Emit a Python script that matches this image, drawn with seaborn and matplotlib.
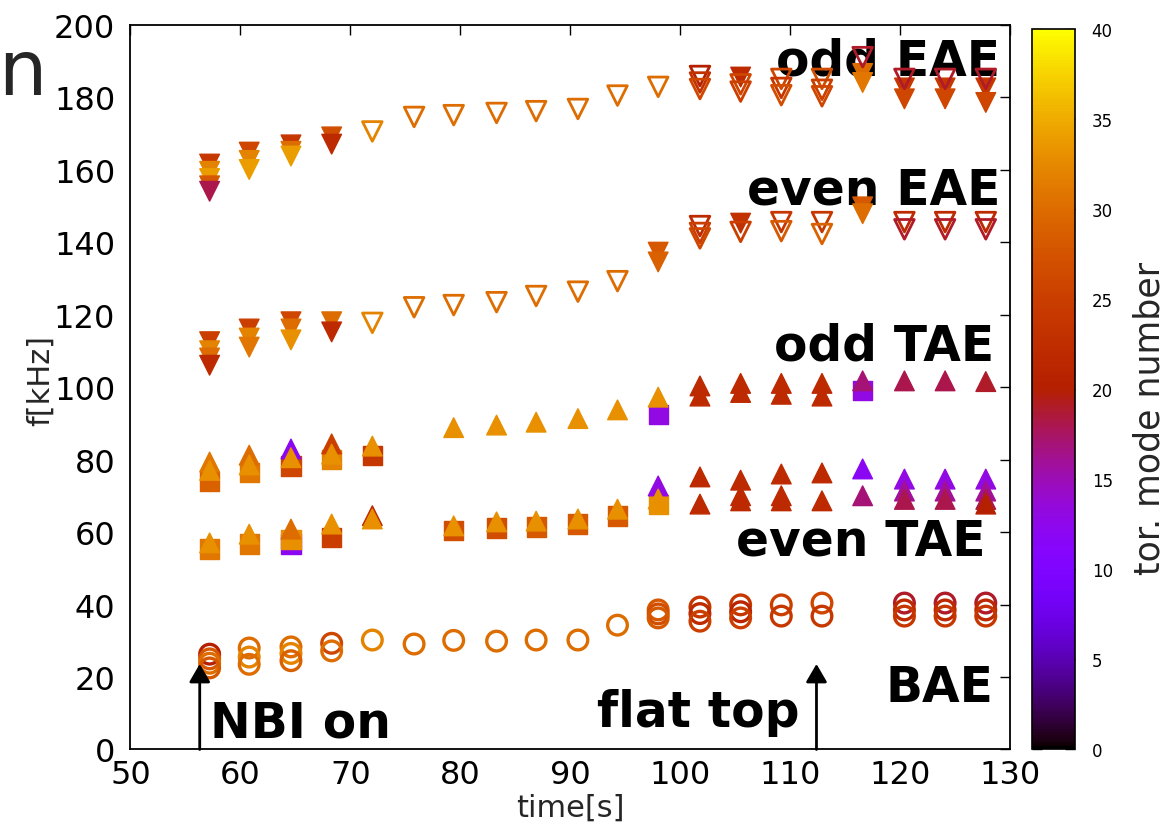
import matplotlib
matplotlib.use("Agg")
import matplotlib.pyplot as plt
import pandas as pd
import seaborn as sns
from matplotlib.colors import Normalize
from matplotlib.cm import ScalarMappable

# ---------------- data ----------------
# odd EAE (down triangles); open = 1 -> hollow marker
oeae_t = [57.2, 57.2, 57.2, 57.2, 57.2, 60.8, 60.8, 60.8, 64.6, 64.6, 64.6, 68.3, 68.3,
          72.0, 75.8, 79.4, 83.3, 86.9, 90.7, 94.3, 98.0,
          101.8, 101.8, 101.8, 105.5, 105.5, 105.5, 109.2, 109.2, 109.2, 112.9, 112.9, 112.9,
          116.6, 116.6, 116.6, 120.4, 120.4, 120.4, 124.1, 124.1, 124.1, 127.8, 127.8, 127.8]
oeae_f = [161.5, 159.5, 157.5, 155.5, 154.0, 164.8, 162.5, 160.0, 166.8, 165.0, 163.7, 169.0, 167.0,
          170.5, 174.5, 175.0, 175.6, 176.1, 176.7, 180.4, 182.8,
          185.8, 184.0, 182.2, 185.5, 183.5, 181.5, 185.0, 182.5, 180.5, 185.0, 182.0, 180.2,
          191.0, 186.5, 184.0, 185.0, 182.5, 179.5, 185.0, 182.5, 179.5, 185.0, 182.5, 178.5]
oeae_n = [24, 32, 34, 28, 18, 26, 32, 34, 24, 30, 34, 27, 22,
          32, 30, 30, 30, 30, 30, 30, 30,
          20, 23, 26, 22, 26, 25, 26, 24, 27, 27, 25, 26,
          19, 30, 31, 19, 24, 26, 19, 24, 26, 19, 24, 26]
oeae_open = [0, 0, 0, 0, 0, 0, 0, 0, 0, 0, 0, 0, 0,
             1, 1, 1, 1, 1, 1, 1, 1,
             1, 1, 1, 0, 1, 1, 1, 1, 1, 1, 1, 1,
             1, 0, 0, 1, 0, 0, 1, 0, 0, 1, 0, 0]

# even EAE (down triangles)
eeae_t = [57.2, 57.2, 57.2, 57.2, 60.8, 60.8, 60.8, 64.6, 64.6, 64.6, 68.3, 68.3,
          72.0, 75.8, 79.4, 83.3, 86.9, 90.7, 94.3, 98.0, 98.0,
          101.8, 101.8, 101.8, 105.5, 105.5, 109.2, 109.2, 112.9, 112.9,
          116.6, 116.6, 120.4, 120.4, 124.1, 124.1, 127.8, 127.8]
eeae_f = [112.5, 110.0, 108.0, 106.0, 116.0, 113.5, 111.0, 118.0, 116.0, 113.0, 118.0, 115.2,
          117.7, 122.0, 122.6, 123.4, 125.1, 126.3, 129.2, 137.2, 134.5,
          144.4, 142.5, 141.0, 145.2, 142.8, 145.5, 143.0, 145.5, 142.2,
          149.7, 147.8, 145.5, 143.5, 145.5, 143.5, 145.5, 143.5]
eeae_n = [25, 32, 30, 22, 25, 32, 31, 26, 30, 33, 30, 22,
          32, 30, 30, 30, 30, 30, 30, 28, 29,
          22, 25, 26, 23, 25, 24, 28, 24, 29,
          28, 30, 22, 19, 22, 19, 22, 19]
eeae_open = [0, 0, 0, 0, 0, 0, 0, 0, 0, 0, 0, 0,
             1, 1, 1, 1, 1, 1, 1, 0, 0,
             1, 1, 1, 0, 1, 1, 1, 1, 1,
             0, 0, 1, 1, 1, 1, 1, 1]

# odd TAE (up triangles '^' and squares 's')
otae_t = [57.2, 57.2, 57.2, 60.8, 60.8, 60.8, 64.6, 64.6, 64.6, 68.3, 68.3, 68.3, 72.0, 72.0,
          79.4, 83.3, 86.9, 90.7, 94.3, 98.0, 98.0,
          101.8, 101.8, 105.5, 105.5, 109.2, 109.2, 112.9, 112.9, 116.6, 116.6,
          120.4, 124.1, 127.8]
otae_f = [79.3, 77.0, 74.0, 81.2, 78.5, 76.5, 82.9, 80.5, 78.2, 84.3, 81.5, 80.0, 83.7, 81.0,
          88.8, 89.5, 90.3, 91.3, 93.7, 97.2, 92.3,
          100.3, 97.5, 101.0, 98.5, 101.0, 98.0, 101.0, 97.5, 101.7, 99.0,
          101.7, 101.7, 101.5]
otae_n = [31, 33, 29, 30, 33, 31, 12, 33, 26, 25, 33, 32, 33, 24,
          33, 33, 33, 33, 33, 33, 13,
          22, 22, 22, 22, 22, 22, 22, 22, 17, 13,
          18, 18, 19]
otae_shape = ['^', '^', 's', '^', '^', 's', '^', '^', 's', '^', '^', 's', '^', 's',
              '^', '^', '^', '^', '^', '^', 's',
              '^', '^', '^', '^', '^', '^', '^', '^', '^', 's',
              '^', '^', '^']

# even TAE
etae_t = [57.2, 57.2, 60.8, 60.8, 64.6, 64.6, 64.6, 68.3, 68.3, 72.0, 72.0,
          79.4, 79.4, 83.3, 83.3, 86.9, 86.9, 90.7, 90.7, 94.3, 94.3, 98.0, 98.0, 98.0,
          101.8, 101.8, 105.5, 105.5, 105.5, 109.2, 109.2, 109.2, 112.9, 112.9,
          116.6, 116.6, 120.4, 120.4, 120.4, 124.1, 124.1, 124.1, 127.8, 127.8, 127.8, 127.8]
etae_f = [57.0, 55.3, 59.4, 56.7, 60.8, 56.7, 58.0, 62.2, 58.6, 64.5, 63.6,
          61.7, 60.3, 62.8, 61.1, 63.0, 61.4, 63.6, 62.2, 66.3, 64.4, 72.7, 69.1, 67.7,
          75.2, 67.7, 74.3, 70.0, 68.6, 76.0, 70.0, 68.6, 76.3, 68.6,
          77.4, 70.0, 74.6, 71.3, 69.0, 74.6, 71.3, 69.0, 74.6, 71.3, 69.0, 67.7]
etae_n = [33, 31, 33, 31, 30, 12, 33, 33, 25, 22, 33,
          33, 27, 33, 27, 33, 28, 33, 28, 33, 28, 13, 33, 33,
          22, 22, 22, 22, 22, 22, 22, 22, 22, 22,
          12, 17, 13, 16, 18, 13, 16, 18, 13, 16, 18, 20]
etae_shape = ['^', 's', '^', 's', '^', 's', 's', '^', 's', '^', '^',
              '^', 's', '^', 's', '^', 's', '^', 's', '^', 's', '^', '^', 's',
              '^', '^', '^', '^', '^', '^', '^', '^', '^', '^',
              '^', '^', '^', '^', '^', '^', '^', '^', '^', '^', '^', '^']

# BAE (open circles)
bae_t = [57.2, 57.2, 57.2, 57.2, 60.8, 60.8, 60.8, 64.6, 64.6, 64.6, 68.3, 68.3,
         72.0, 75.8, 79.4, 83.3, 86.9, 90.7, 94.3, 98.0, 98.0, 98.0,
         101.8, 101.8, 101.8, 105.5, 105.5, 105.5, 109.2, 109.2, 112.9, 112.9,
         120.4, 120.4, 120.4, 124.1, 124.1, 124.1, 127.8, 127.8, 127.8]
bae_f = [26.3, 25.0, 23.8, 22.5, 28.0, 25.5, 23.5, 28.3, 26.5, 24.5, 29.3, 27.2,
         30.2, 29.1, 30.1, 29.9, 30.2, 30.2, 34.3, 38.5, 37.4, 36.3,
         39.3, 37.5, 35.4, 39.9, 38.0, 36.3, 39.9, 36.8, 40.4, 36.8,
         40.4, 38.5, 36.8, 40.4, 38.5, 36.8, 40.4, 38.5, 36.8]
bae_n = [20, 28, 30, 28, 30, 32, 30, 30, 32, 29, 26, 30,
         32, 30, 30, 30, 30, 30, 30, 28, 27, 28,
         24, 22, 25, 24, 21, 25, 25, 24, 26, 24,
         19, 22, 24, 19, 22, 24, 19, 22, 24]

x_ticks = [50, 60, 70, 80, 90, 100, 110, 120, 130]
y_ticks = [0, 20, 40, 60, 80, 100, 120, 140, 160, 180, 200]
cb_ticks = [0, 5, 10, 15, 20, 25, 30, 35, 40]

# ---------------- plotting ----------------
sns.set_style("white")
plt.rcParams['font.family'] = ['DejaVu Sans']

fig = plt.figure(figsize=(11.68, 8.29), dpi=100)
ax = fig.add_axes([0.1117, 0.0947, 0.753, 0.8745])
cmap = matplotlib.colormaps['gnuplot']
hnorm = (0, 40)


def draw(t, f, n, marker, hollow, size, lw):
    if len(t) == 0:
        return
    df = pd.DataFrame({"t": t, "f": f, "n": n})
    sns.scatterplot(data=df, x="t", y="f", hue="n", palette=cmap, hue_norm=hnorm,
                    marker=marker, s=size, legend=False, ax=ax, zorder=4)
    coll = ax.collections[-1]
    fc = coll.get_facecolors()
    coll.set_edgecolors(fc)
    if hollow:
        coll.set_facecolors("none")
        coll.set_linewidths(lw)
    else:
        coll.set_linewidths(1.0)


def split(t, f, n, flags, key):
    idx = [i for i, v in enumerate(flags) if v == key]
    return [t[i] for i in idx], [f[i] for i in idx], [n[i] for i in idx]


# EAE families
for T, F, N, O in [(oeae_t, oeae_f, oeae_n, oeae_open), (eeae_t, eeae_f, eeae_n, eeae_open)]:
    draw(*split(T, F, N, O, 0), 'v', False, 200, 2.0)
    draw(*split(T, F, N, O, 1), 'v', True, 200, 2.0)

# TAE families: squares first, then triangles
for T, F, N, S in [(otae_t, otae_f, otae_n, otae_shape), (etae_t, etae_f, etae_n, etae_shape)]:
    draw(*split(T, F, N, S, 's'), 's', False, 190, 1.0)
    draw(*split(T, F, N, S, '^'), '^', False, 200, 1.0)

# BAE
draw(bae_t, bae_f, bae_n, 'o', True, 200, 2.4)

ax.set_xlim(50, 130)
ax.set_ylim(0, 200)
ax.set_xticks(x_ticks)
ax.set_yticks(y_ticks)
ax.tick_params(direction='in', top=True, right=True, length=7, width=1, labelsize=23,
               colors='black')
ax.tick_params(axis='x', pad=7)
ax.tick_params(axis='y', pad=11)
for sp in ax.spines.values():
    sp.set_color('black')
    sp.set_linewidth(1.3)

ax.set_xlabel('time[s]', fontsize=22)
ax.set_ylabel('f[kHz]', fontsize=22)
ax.xaxis.set_label_coords(0.5, -0.06)
ax.yaxis.set_label_coords(-0.086, 0.511)

# mode labels (drawn beneath the markers)
txt_kw = dict(fontsize=35, fontweight='bold', color='black', zorder=2)
ax.text(129.1, 186.3, 'odd EAE', ha='right', va='baseline', **txt_kw)
ax.text(129.1, 150.5, 'even EAE', ha='right', va='baseline', **txt_kw)
ax.text(128.6, 107.7, 'odd TAE', ha='right', va='baseline', **txt_kw)
ax.text(127.8, 53.7, 'even TAE', ha='right', va='baseline', **txt_kw)
ax.text(128.5, 13.4, 'BAE', ha='right', va='baseline', **txt_kw)
ax.text(57.2, 3.7, 'NBI on', ha='left', va='baseline', **txt_kw)
ax.text(110.9, 6.4, 'flat top', ha='right', va='baseline', **txt_kw)

arrow_kw = dict(arrowstyle='-|>,head_length=0.55,head_width=0.32', color='black', lw=2,
                mutation_scale=20, shrinkA=0, shrinkB=0)
ax.annotate('', xy=(56.3, 23.6), xytext=(56.3, 0), arrowprops=arrow_kw, zorder=6)
ax.annotate('', xy=(112.4, 23.6), xytext=(112.4, 0), arrowprops=arrow_kw, zorder=6)

# colour bar
cax = fig.add_axes([0.8836, 0.0953, 0.0368, 0.8685])
sm = ScalarMappable(norm=Normalize(0, 40), cmap=cmap)
cb = fig.colorbar(sm, cax=cax, ticks=cb_ticks)
cb.ax.tick_params(direction='in', left=True, right=True, length=7, width=1,
                  labelsize=12, pad=12, colors='black')
cb.outline.set_linewidth(1.2)
cb.outline.set_edgecolor('black')
fig.text(1149 / 1168, 1 - 418 / 829, 'tor. mode number', rotation=90,
         ha='center', va='center', fontsize=25)

# panel letter
fig.text(-0.002, 0.885, 'n', fontsize=55, ha='left', va='baseline')

fig.savefig('out.png', dpi=100)
